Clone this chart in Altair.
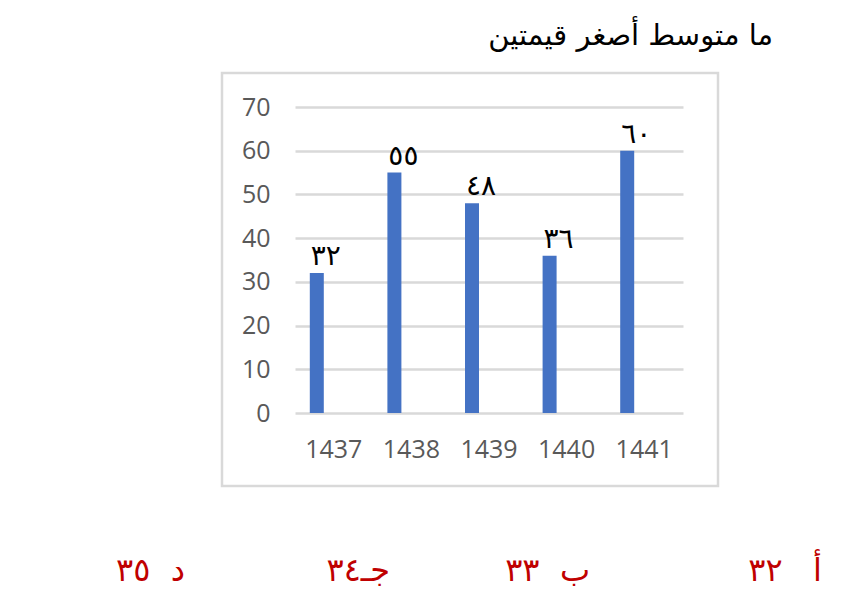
import altair as alt
import pandas as pd

# ---- data ----
years = ["1437", "1438", "1439", "1440", "1441"]
values = [32, 55, 48, 36, 60]
value_labels = ["٣٢", "٥٥", "٤٨", "٣٦", "٦٠"]
y_ticks = [0, 10, 20, 30, 40, 50, 60, 70]
title_text = "ما متوسط أصغر قيمتين"
NB = "\u00a0"
options = ["أ" + NB * 3 + "٣٢", "ب" + NB * 2 + "٣٣", "جـ" + "٣٤", "د" + NB * 2 + "٣٥"]

df = pd.DataFrame({"year": years, "value": values, "label": value_labels})

W, H = 388, 306
GRID = "#D9D9D9"
AXIS_TXT = "#595959"
RED = "#C00000"

x_enc = alt.X("year:N", sort=years,
              scale=alt.Scale(paddingInner=0, paddingOuter=0),
              axis=alt.Axis(title=None, labelAngle=0, domain=False, ticks=False,
                            labelFont="Open Sans", labelFontSize=25,
                            labelColor=AXIS_TXT, labelPadding=24))
y_enc = alt.Y("value:Q", scale=alt.Scale(domain=[0, 70], nice=False),
              axis=alt.Axis(title=None, values=y_ticks, domain=False, ticks=False,
                            grid=True, gridColor=GRID, gridWidth=2.5,
                            labelFont="Open Sans", labelFontSize=25,
                            labelColor=AXIS_TXT, labelPadding=25))

base = alt.Chart(df)

bars = base.mark_bar(size=14, color="#4472C4", xOffset=-17).encode(x=x_enc, y=y_enc)

labels = base.mark_text(font="DejaVu Sans", fontSize=28, color="black",
                        align="center", baseline="alphabetic",
                        xOffset=-8, dy=-8).encode(
    x=alt.X("year:N", sort=years), y=alt.Y("value:Q"), text="label:N")

one = pd.DataFrame({"t": [title_text]})
border = alt.Chart(one).mark_rect(fill="transparent", stroke=GRID, strokeWidth=2.5).encode(
    x=alt.value(-73), x2=alt.value(423), y=alt.value(-34), y2=alt.value(379))

title = alt.Chart(one).mark_text(font="DejaVu Sans", fontSize=29, color="black",
                                 align="right", baseline="alphabetic").encode(
    x=alt.value(478), y=alt.value(-62), text="t:N")

opt_layers = []
opt_x = [527, 295, 95, -110]
for txt, xv in zip(options, opt_x):
    opt_layers.append(
        alt.Chart(pd.DataFrame({"t": [txt]})).mark_text(
            font="DejaVu Sans", fontSize=32, color=RED,
            align="right", baseline="alphabetic").encode(
            x=alt.value(xv), y=alt.value(474), text="t:N"))

chart = alt.layer(border, bars, labels, title, *opt_layers).properties(
    width=W, height=H,
    autosize=alt.AutoSizeParams(type="none"),
    padding={"left": 295, "top": 107, "right": 858 - 295 - W, "bottom": 598 - 107 - H},
    background="white",
).configure_view(stroke=None)

chart.save("out.html", embed_options={"renderer": "svg", "actions": False})
